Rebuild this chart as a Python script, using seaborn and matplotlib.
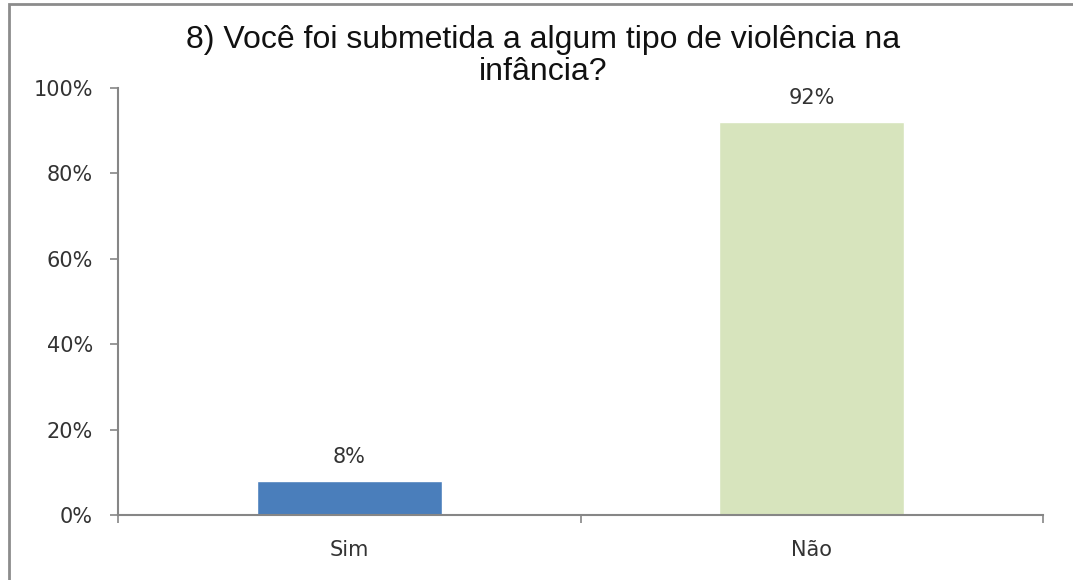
import matplotlib
matplotlib.use("Agg")
import matplotlib.pyplot as plt
import seaborn as sns
import pandas as pd
from matplotlib.patches import Rectangle

categories = ["Sim", "Não"]
values = [8, 92]
labels = ["8%", "92%"]
colors = ["#4A7EBB", "#D7E4BD"]
yticks = [0, 20, 40, 60, 80, 100]
ytick_labels = ["0%", "20%", "40%", "60%", "80%", "100%"]
title_lines = ["8) Você foi submetida a algum tipo de violência na", "infância?"]

sns.set_theme(style="white")
plt.rcParams["font.family"] = ["DejaVu Sans"]

df = pd.DataFrame({"cat": categories, "val": values})

fig = plt.figure(figsize=(10.73, 5.8), dpi=100)
ax = fig.add_axes([118/1073, 1-515/580, (1043-118)/1073, (515-88)/580])

sns.barplot(data=df, x="cat", y="val", hue="cat", palette=colors, legend=False,
            width=0.4, ax=ax, saturation=1)

ax.set_xlim(-0.5, 1.5)
ax.set_ylim(0, 100)
ax.set_yticks(yticks)
ax.set_yticklabels(ytick_labels, fontsize=15, color="#333333")
ax.set_xticks(range(len(categories)))
ax.set_xticklabels(categories, fontsize=15, color="#333333")
ax.set_xticks([-0.5, 0.5, 1.5], minor=True)
ax.tick_params(axis="x", which="major", bottom=True, length=0, pad=18)
ax.tick_params(axis="x", which="minor", bottom=True, length=6, width=1.2, color="#868686", direction="out")
ax.tick_params(axis="y", which="major", left=True, length=6, width=1.2, color="#868686", direction="out", pad=12)
ax.set_xlabel("")
ax.set_ylabel("")

for s in ["top", "right"]:
    ax.spines[s].set_visible(False)
for s in ["left", "bottom"]:
    ax.spines[s].set_color("#868686")
    ax.spines[s].set_linewidth(1.5)

for i, (v, lab) in enumerate(zip(values, labels)):
    ax.annotate(lab, (i, v), xytext=(0, 10), textcoords="offset points",
                ha="center", va="bottom", fontsize=15, color="#333333")

for line, yc in zip(title_lines, [40, 72]):
    fig.text(543/1073, 1-yc/580, line, ha="center", va="center", fontsize=23,
             family="Liberation Sans", color="#111111")

# outer chart frame
fig.patches.append(Rectangle((9/1073, -0.01), 1.02, 1-4/580+0.01, transform=fig.transFigure,
                             fill=False, edgecolor="#8c8c8c", linewidth=2, clip_on=False))

fig.savefig("out.png", dpi=100, facecolor="white")
